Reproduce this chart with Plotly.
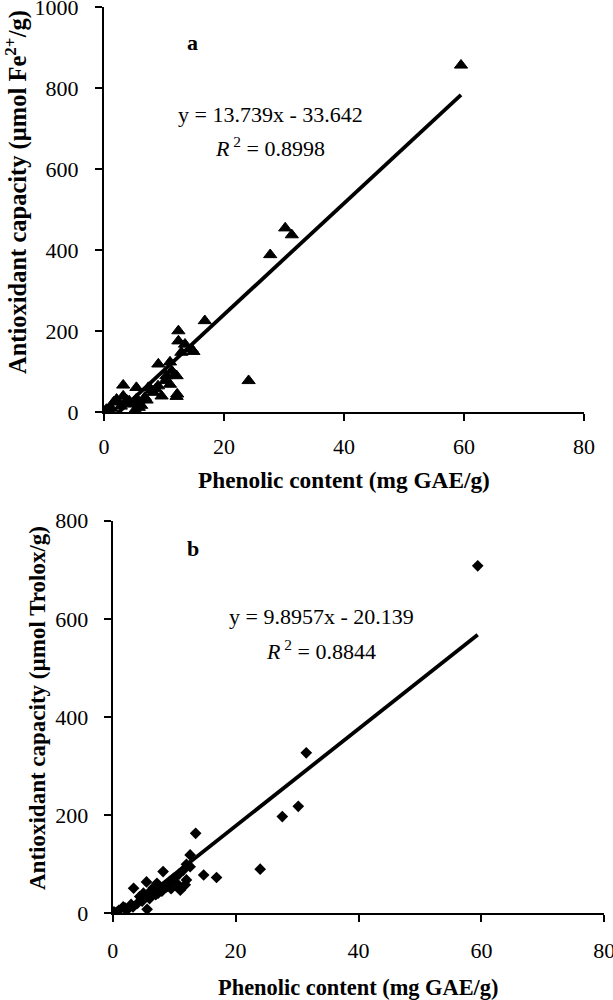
import plotly.graph_objects as go

# Panel a: FRAP (umol Fe2+/g) vs phenolic content
fenoles_a = [59.5, 30.2, 31.3, 27.7, 24.1, 16.8, 12.4, 12.4, 13.5, 14.6,
             12.9, 9.05, 11.0, 11.3, 10.4, 12.1, 11.0, 12.2, 3.2, 5.4,
             7.4, 9.0, 9.6, 8.2, 6.8, 5.7, 4.9, 3.2, 2.1, 1.6,
             0.4, 0.1, 5.4, 6.2, 2.8, 1.2, 0.8, 4.2, 7.9, 10.2,
             5.8, 3.6, 8.6, 14.9, 11.8, 7.1, 3.8, 0.7, 5.2, 12.1]
frap_a = [857, 455, 438, 389, 78, 226, 201, 176, 168, 156,
          148, 119, 124, 102, 90, 90, 69, 45, 67, 61,
          61, 65, 40, 49, 37, 28, 20, 40, 32, 25,
          7, 2, 33, 17, 15, 10, 4, 28, 55, 78,
          12, 22, 58, 150, 92, 30, 30, 6, 6, 39]

# Panel b: TEAC (umol Trolox/g) vs phenolic content
fenoles_b = [59.4, 31.5, 30.2, 27.6, 24.0, 16.9, 14.8, 13.5, 12.6, 12.6,
             11.5, 8.2, 9.9, 10.4, 12.0, 11.0, 8.8, 7.2, 6.3, 7.4,
             5.0, 4.4, 3.4, 5.5, 5.6, 0.2, 1.7, 3.3, 2.5, 1.0,
             4.0, 6.0, 7.0, 8.0, 9.3, 10.8, 12.0, 6.6, 4.8, 3.0,
             2.0, 0.6, 9.5, 11.8]
teac_b = [708, 327, 218, 197, 90, 73, 78, 163, 119, 95,
          88, 85, 71, 61, 68, 47, 54, 61, 47, 41,
          41, 34, 51, 64, 8, 3, 13, 13, 9, 6,
          20, 30, 38, 45, 65, 80, 100, 52, 25, 18,
          11, 2, 50, 58]

# Trendline coefficients (as printed on the chart)
pendiente_a, ordenada_a, r2_a = 13.739, -33.642, 0.8998
pendiente_b, ordenada_b, r2_b = 9.8957, -20.139, 0.8844

ticks_x = [0, 20, 40, 60, 80]
ticks_y_a = [0, 200, 400, 600, 800, 1000]
ticks_y_b = [0, 200, 400, 600, 800]

FUENTE = "Liberation Serif"


def recta(xs, m, b):
    x0, x1 = min(xs), max(xs)
    return [x0, x1], [m * x0 + b, m * x1 + b]


fig = go.Figure()

## PUNTOS Y TENDENCIA
fig.add_trace(go.Scatter(
    x=fenoles_a, y=frap_a, mode="markers",
    marker=dict(symbol="triangle-up", size=11.5, color="black",
                line=dict(color="black", width=1)),
    xaxis="x", yaxis="y", showlegend=False,
))
lx, ly = recta(fenoles_a, pendiente_a, ordenada_a)
fig.add_trace(go.Scatter(
    x=lx, y=ly, mode="lines", line=dict(color="black", width=3.8),
    xaxis="x", yaxis="y", showlegend=False,
))

fig.add_trace(go.Scatter(
    x=fenoles_b, y=teac_b, mode="markers",
    marker=dict(symbol="diamond", size=9, color="black"),
    xaxis="x2", yaxis="y2", showlegend=False,
))
lx, ly = recta(fenoles_b, pendiente_b, ordenada_b)
fig.add_trace(go.Scatter(
    x=lx, y=ly, mode="lines", line=dict(color="black", width=3.8),
    xaxis="x2", yaxis="y2", showlegend=False,
))

## EJES
eje = dict(
    showline=True, linecolor="black", linewidth=2,
    ticks="outside", ticklen=7, tickwidth=1.5, tickcolor="black",
    showgrid=False, zeroline=False, automargin=False,
    ticklabeloverflow="allow",
    tickfont=dict(family=FUENTE, size=22, color="black"),
)

fig.update_layout(
    width=613, height=1000,
    margin=dict(l=0, r=0, t=0, b=0),
    paper_bgcolor="white", plot_bgcolor="white",
    xaxis=dict(eje, domain=[104 / 613, 584 / 613], range=[0, 80],
               tickvals=ticks_x, anchor="y", ticklabelstandoff=6),
    yaxis=dict(eje, domain=[0.5877, 0.9927], range=[0, 1000],
               tickvals=ticks_y_a, anchor="x", ticklabelstandoff=12),
    xaxis2=dict(eje, domain=[112.7 / 613, 604.3 / 613], range=[0, 80],
                tickvals=ticks_x, anchor="y2", ticklabelstandoff=9),
    yaxis2=dict(eje, domain=[0.0867, 0.4793], range=[0, 800],
                tickvals=ticks_y_b, anchor="x2", ticklabelstandoff=11),
)

## TEXTOS
anot = [
    dict(x=14.7, y=912, xref="x", yref="y", text="<b>a</b>", size=22),
    dict(x=27.7, y=736, xref="x", yref="y", size=22,
         text=f"y = {pendiente_a}x - {abs(ordenada_a)}"),
    dict(x=27.7, y=655, xref="x", yref="y", size=22,
         text=f"<i>R</i><sup> 2</sup> = {r2_a}"),
    dict(x=13.1, y=744, xref="x2", yref="y2", text="<b>b</b>", size=22),
    dict(x=33.9, y=604, xref="x2", yref="y2", size=22,
         text=f"y = {pendiente_b}x - {abs(ordenada_b)}"),
    dict(x=33.9, y=536, xref="x2", yref="y2", size=22,
         text=f"<i>R</i><sup> 2</sup> = {r2_b}"),
    # titulos de ejes
    dict(x=344 / 613, y=0.52, xref="paper", yref="paper", size=23.3,
         text="<b>Phenolic content (mg GAE/g)</b>"),
    dict(x=358 / 613, y=0.013, xref="paper", yref="paper", size=22.4,
         text="<b>Phenolic content (mg GAE/g)</b>"),
    dict(x=17 / 613, y=0.808, xref="paper", yref="paper", textangle=-90,
         size=24.5, text="<b>Antioxidant capacity (µmol Fe<sup>2+</sup>/g)</b>"),
    dict(x=37 / 613, y=0.292, xref="paper", yref="paper", textangle=-90,
         size=23, text="<b>Antioxidant capacity (µmol Trolox/g)</b>"),
]
for a in anot:
    tam = a.pop("size")
    fig.add_annotation(showarrow=False, xanchor="center", yanchor="middle",
                       font=dict(family=FUENTE, size=tam, color="black"), **a)

# sin margen del body para que la figura ocupe justo la ventana
fig.write_html("out.html", config={"displayModeBar": False},
               post_script="document.body.style.margin='0px';")
